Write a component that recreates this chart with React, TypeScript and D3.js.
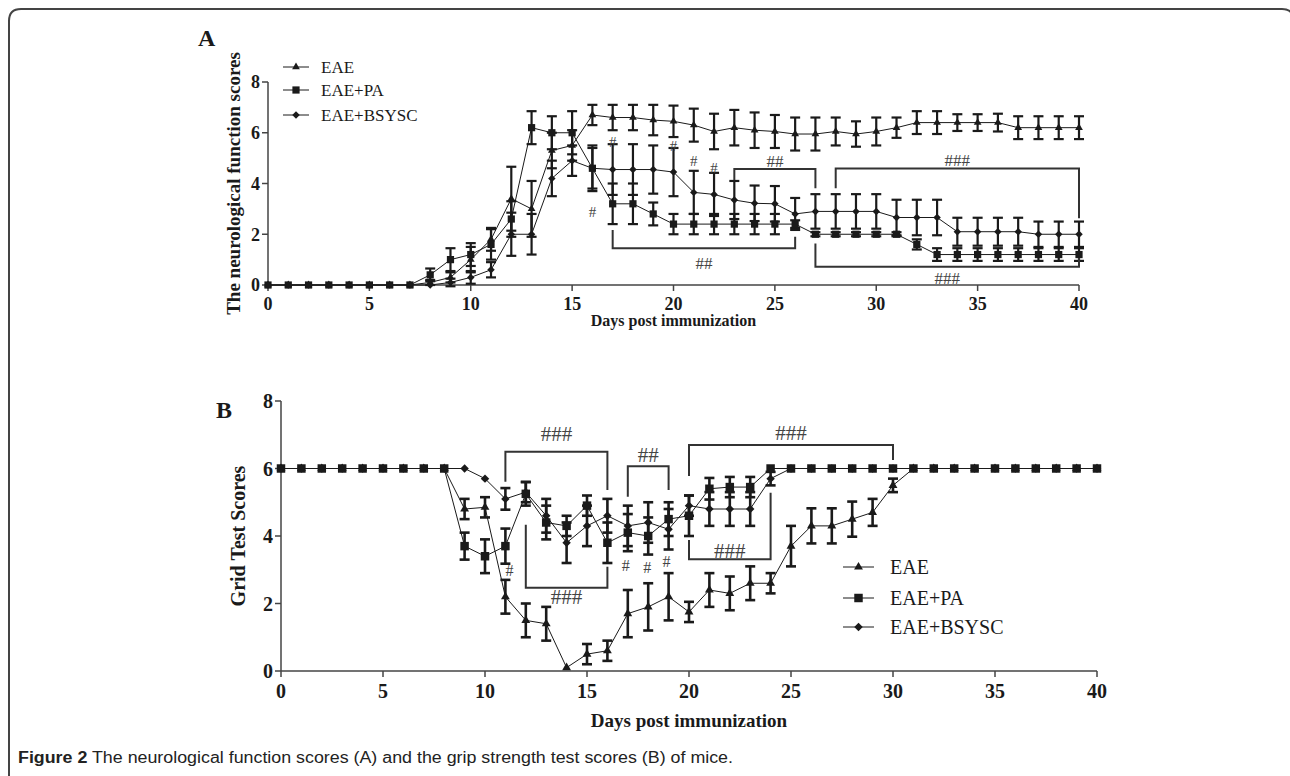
import * as d3 from "d3";

// x categories (days post immunization)
const days = [0, 1, 2, 3, 4, 5, 6, 7, 8, 9, 10, 11, 12, 13, 14, 15, 16, 17, 18, 19, 20,
  21, 22, 23, 24, 25, 26, 27, 28, 29, 30, 31, 32, 33, 34, 35, 36, 37, 38, 39, 40];
const xTicks = [0, 5, 10, 15, 20, 25, 30, 35, 40];
const yTicks = [0, 2, 4, 6, 8];
const seriesNames = ["EAE", "EAE+PA", "EAE+BSYSC"];

// Panel A: neurological function scores (mean, SEM)
const eaeA = [0, 0, 0, 0, 0, 0, 0, 0, 0.1, 0.3, 1.0, 1.8, 3.4, 3.0, 5.3, 5.5, 6.7, 6.6, 6.6, 6.5, 6.45,
  6.3, 6.05, 6.2, 6.1, 6.05, 5.95, 5.95, 6.05, 5.95, 6.05, 6.2, 6.4, 6.4, 6.4, 6.4, 6.4, 6.2, 6.2, 6.2, 6.2];
const eaeAErr = [0, 0, 0, 0, 0, 0, 0, 0, 0.1, 0.2, 0.5, 0.45, 1.26, 1.1, 0.7, 0.6, 0.4, 0.5, 0.5, 0.6, 0.62,
  0.65, 0.7, 0.7, 0.7, 0.65, 0.65, 0.65, 0.55, 0.5, 0.55, 0.4, 0.45, 0.45, 0.33, 0.33, 0.35, 0.45, 0.45, 0.45, 0.45];
const paA = [0, 0, 0, 0, 0, 0, 0, 0, 0.4, 1.0, 1.2, 1.6, 2.6, 6.2, 6.0, 6.0, 4.6, 3.2, 3.2, 2.8, 2.4,
  2.4, 2.4, 2.4, 2.4, 2.4, 2.4, 2.0, 2.0, 2.0, 2.0, 2.0, 1.6, 1.2, 1.2, 1.2, 1.2, 1.2, 1.2, 1.2, 1.2];
const paAErr = [0, 0, 0, 0, 0, 0, 0, 0, 0.25, 0.45, 0.45, 0.6, 0.7, 0.65, 0.65, 0.85, 0.8, 0.8, 0.8, 0.45, 0.4,
  0.4, 0.4, 0.4, 0.4, 0.4, 0.15, 0.08, 0.08, 0.08, 0.08, 0.08, 0.2, 0.25, 0.25, 0.25, 0.25, 0.25, 0.25, 0.25, 0.25];
const bsA = [0, 0, 0, 0, 0, 0, 0, 0, 0, 0.1, 0.3, 0.6, 2.0, 2.0, 4.2, 4.9, 4.6, 4.55, 4.55, 4.55, 4.45,
  3.65, 3.57, 3.35, 3.22, 3.2, 2.8, 2.9, 2.9, 2.9, 2.9, 2.66, 2.66, 2.66, 2.1, 2.1, 2.1, 2.1, 2.0, 2.0, 2.0];
const bsAErr = [0, 0, 0, 0, 0, 0, 0, 0, 0, 0.15, 0.25, 0.3, 0.85, 0.8, 0.7, 0.6, 0.9, 1.0, 1.0, 0.95, 0.95,
  0.85, 0.85, 0.75, 0.7, 0.7, 0.63, 0.68, 0.68, 0.68, 0.68, 0.7, 0.7, 0.7, 0.55, 0.55, 0.55, 0.55, 0.5, 0.5, 0.5];

// Panel B: grid test scores (mean, SEM)
const eaeB = [6, 6, 6, 6, 6, 6, 6, 6, 6, 4.8, 4.85, 2.2, 1.5, 1.4, 0.1, 0.5, 0.6, 1.7, 1.9, 2.2, 1.75,
  2.4, 2.3, 2.6, 2.6, 3.7, 4.3, 4.3, 4.5, 4.7, 5.5, 6, 6, 6, 6, 6, 6, 6, 6, 6, 6];
const eaeBErr = [0, 0, 0, 0, 0, 0, 0, 0, 0, 0.3, 0.3, 0.5, 0.5, 0.5, 0, 0.3, 0.3, 0.7, 0.7, 0.7, 0.3,
  0.5, 0.5, 0.5, 0.3, 0.6, 0.52, 0.52, 0.52, 0.4, 0.2, 0, 0, 0, 0, 0, 0, 0, 0, 0, 0];
const paB = [6, 6, 6, 6, 6, 6, 6, 6, 6, 3.7, 3.4, 3.7, 5.25, 4.4, 4.3, 4.9, 3.8, 4.1, 4.0, 4.5, 4.6,
  5.4, 5.45, 5.45, 6, 6, 6, 6, 6, 6, 6, 6, 6, 6, 6, 6, 6, 6, 6, 6, 6];
const paBErr = [0, 0, 0, 0, 0, 0, 0, 0, 0, 0.4, 0.5, 0.52, 0.35, 0.5, 0.3, 0.3, 0.6, 0.55, 0.55, 0.5, 0.6,
  0.32, 0.3, 0.3, 0, 0, 0, 0, 0, 0, 0, 0, 0, 0, 0, 0, 0, 0, 0, 0, 0];
const bsB = [6, 6, 6, 6, 6, 6, 6, 6, 6, 6, 5.7, 5.1, 5.3, 4.6, 3.8, 4.3, 4.6, 4.3, 4.4, 4.2, 4.9,
  4.8, 4.8, 4.8, 5.7, 6, 6, 6, 6, 6, 6, 6, 6, 6, 6, 6, 6, 6, 6, 6, 6];
const bsBErr = [0, 0, 0, 0, 0, 0, 0, 0, 0, 0, 0, 0.32, 0.3, 0.5, 0.6, 0.6, 0.5, 0.6, 0.6, 0.6, 0.3,
  0.5, 0.5, 0.5, 0.2, 0, 0, 0, 0, 0, 0, 0, 0, 0, 0, 0, 0, 0, 0, 0, 0];

// significance brackets: day range, bar level, tip ends, label and label level (score units)
const bracketsA = [
  { x0: 17, x1: 26, level: 1.45, tip0: 2.17, tip1: 1.9, text: "##", labelV: 0.85 },
  { x0: 23, x1: 27, level: 4.57, tip0: 4.13, tip1: 3.81, text: "##", labelV: 4.87 },
  { x0: 28, x1: 40, level: 4.59, tip0: 3.81, tip1: 2.63, text: "###", labelV: 4.92 },
  { x0: 27, x1: 40, level: 0.72, tip0: 1.64, tip1: 1.06, text: "###", labelV: 0.27 },
];
const hashesA = [
  { day: 17, v: 5.64 }, { day: 16, v: 2.87 }, { day: 20, v: 5.47 }, { day: 21, v: 4.88 }, { day: 22, v: 4.61 },
];
const bracketsB = [
  { x0: 11, x1: 16, level: 6.5, tip0: 5.61, tip1: 5.36, text: "###", labelV: 7.04 },
  { x0: 17, x1: 19, level: 6.07, tip0: 5.16, tip1: 5.36, text: "##", labelV: 6.42 },
  { x0: 20, x1: 30, level: 6.7, tip0: 5.78, tip1: 6.25, text: "###", labelV: 7.06 },
  { x0: 12, x1: 16, level: 2.47, tip0: 4.33, tip1: 3.09, text: "###", labelV: 2.2 },
  { x0: 20, x1: 24, level: 3.31, tip0: 3.88, tip1: 5.28, text: "###", labelV: 3.56 },
];
const hashesB = [
  { day: 11.2, v: 2.99 }, { day: 16.9, v: 3.13 }, { day: 17.95, v: 3.08 }, { day: 18.9, v: 3.25 },
];

const SERIF = "'Liberation Serif', 'Times New Roman', serif";
const INK = "#1a1a1a";

type Layout = {
  left: number; right: number; top: number; bottom: number;
  tickFont: number; xLabelY: number; xLabelFont: number;
  yLabel: string; yLabelX: number; yLabelFont: number;
  tag: string; tagX: number; tagY: number;
  sq: number; tri: number; dia: number; cap: number; barW: number;
  hashFont: number; hashSingleFont: number;
  legend: { x0: number; x1: number; tx: number; ys: number[]; font: number };
};

const layoutA: Layout = {
  left: 268, right: 1079, top: 82, bottom: 285,
  tickFont: 18, xLabelY: 326, xLabelFont: 16,
  yLabel: "The neurological function scores", yLabelX: 233, yLabelFont: 19,
  tag: "A", tagX: 198, tagY: 46,
  sq: 52, tri: 26, dia: 28, cap: 10, barW: 2.2,
  hashFont: 17, hashSingleFont: 15,
  legend: { x0: 283, x1: 309, tx: 321, ys: [67, 90, 115], font: 17 },
};
const layoutB: Layout = {
  left: 281, right: 1097, top: 401, bottom: 671,
  tickFont: 20, xLabelY: 727, xLabelFont: 19,
  yLabel: "Grid Test Scores", yLabelX: 238, yLabelFont: 20,
  tag: "B", tagX: 216, tagY: 418,
  sq: 72, tri: 34, dia: 36, cap: 10, barW: 2.6,
  hashFont: 21, hashSingleFont: 16,
  legend: { x0: 843, x1: 874, tx: 890, ys: [567, 598, 627], font: 20 },
};

const kinds = ["triangle", "square", "diamond"];

function Marker({ kind, cx, cy, L }: { kind: string; cx: number; cy: number; L: Layout }) {
  if (kind === "triangle") {
    return <path d={d3.symbol().type(d3.symbolTriangle).size(L.tri)() as string}
      transform={`translate(${cx},${cy})`} fill={INK} />;
  }
  if (kind === "square") {
    return <path d={d3.symbol().type(d3.symbolSquare).size(L.sq)() as string}
      transform={`translate(${cx},${cy})`} fill={INK} />;
  }
  return <path d={d3.symbol().type(d3.symbolSquare).size(L.dia)() as string}
    transform={`translate(${cx},${cy}) rotate(45)`} fill={INK} />;
}

function Panel({ L, means, errs, brackets, hashes }: {
  L: Layout; means: number[][]; errs: number[][];
  brackets: typeof bracketsA; hashes: typeof hashesA;
}) {
  const x = d3.scaleLinear().domain([0, 40]).range([L.left, L.right]);
  const y = d3.scaleLinear().domain([0, 8]).range([L.bottom, L.top]);
  const line = d3.line<number>().x((_, i) => x(days[i])).y((v) => y(v));
  const axisColor = "#444";
  const midY = (L.top + L.bottom) / 2;

  return (
    <g>
      <text x={L.tagX} y={L.tagY} fontFamily={SERIF} fontWeight="bold" fontSize={24} fill={INK}>{L.tag}</text>

      {/* axes */}
      <line x1={L.left} x2={L.left} y1={L.top} y2={L.bottom} stroke={axisColor} strokeWidth={1.5} />
      <line x1={L.left} x2={L.right} y1={L.bottom} y2={L.bottom} stroke={axisColor} strokeWidth={1.5} />
      {yTicks.map((t) => (
        <g key={"y" + t}>
          <line x1={L.left - 6} x2={L.left} y1={y(t)} y2={y(t)} stroke={axisColor} strokeWidth={1.5} />
          <text x={L.left - 8} y={y(t)} dy="0.35em" textAnchor="end" fontFamily={SERIF}
            fontWeight="bold" fontSize={L.tickFont} fill={INK}>{t}</text>
        </g>
      ))}
      {xTicks.map((t) => (
        <g key={"x" + t}>
          <line x1={x(t)} x2={x(t)} y1={L.bottom} y2={L.bottom + 6} stroke={axisColor} strokeWidth={1.5} />
          <text x={x(t)} y={L.bottom + 8} dy="0.95em" textAnchor="middle" fontFamily={SERIF}
            fontWeight="bold" fontSize={L.tickFont} fill={INK}>{t}</text>
        </g>
      ))}
      <text x={(L.left + L.right) / 2} y={L.xLabelY} textAnchor="middle" fontFamily={SERIF}
        fontWeight="bold" fontSize={L.xLabelFont} fill={INK}>Days post immunization</text>
      <text transform={`translate(${L.yLabelX},${midY}) rotate(-90)`} dy="0.35em" textAnchor="middle"
        fontFamily={SERIF} fontWeight="bold" fontSize={L.yLabelFont} fill={INK}>{L.yLabel}</text>

      {/* series lines */}
      {means.map((m, s) => (
        <path key={"l" + s} d={line(m) as string} fill="none" stroke={INK} strokeWidth={1} />
      ))}
      {/* error bars */}
      {means.map((m, s) => m.map((v, i) => {
        const e = errs[s][i];
        if (e < 0.05) return null;
        const cx = x(days[i]);
        return (
          <g key={`e${s}-${i}`} stroke={INK} strokeWidth={L.barW}>
            <line x1={cx} x2={cx} y1={y(v - e)} y2={y(v + e)} />
            <line x1={cx - L.cap / 2} x2={cx + L.cap / 2} y1={y(v + e)} y2={y(v + e)} />
            <line x1={cx - L.cap / 2} x2={cx + L.cap / 2} y1={y(v - e)} y2={y(v - e)} />
          </g>
        );
      }))}
      {/* markers */}
      {means.map((m, s) => m.map((v, i) => (
        <Marker key={`m${s}-${i}`} kind={kinds[s]} cx={x(days[i])} cy={y(v)} L={L} />
      )))}

      {/* significance brackets */}
      {brackets.map((b, i) => (
        <g key={"b" + i}>
          <path d={`M${x(b.x0)},${y(b.tip0)}V${y(b.level)}H${x(b.x1)}V${y(b.tip1)}`}
            fill="none" stroke="#333" strokeWidth={2} />
          <text x={x((b.x0 + b.x1) / 2)} y={y(b.labelV)} dy="0.35em" textAnchor="middle"
            fontFamily={SERIF} fontSize={L.hashFont} fill="#444">{b.text}</text>
        </g>
      ))}
      {hashes.map((h, i) => (
        <text key={"h" + i} x={x(h.day)} y={y(h.v)} dy="0.35em" textAnchor="middle"
          fontFamily={SERIF} fontSize={L.hashSingleFont} fill="#444">#</text>
      ))}

      {/* legend */}
      {seriesNames.map((name, s) => {
        const ly = L.legend.ys[s];
        return (
          <g key={"lg" + s}>
            <line x1={L.legend.x0} x2={L.legend.x1} y1={ly} y2={ly} stroke={INK} strokeWidth={1} />
            <Marker kind={kinds[s]} cx={(L.legend.x0 + L.legend.x1) / 2} cy={ly} L={L} />
            <text x={L.legend.tx} y={ly} dy="0.35em" fontFamily={SERIF} fontSize={L.legend.font}
              fill={INK}>{name}</text>
          </g>
        );
      })}
    </g>
  );
}

export default function App() {
  return (
    <svg width={1290} height={776} style={{ position: "absolute", left: 0, top: 0, background: "#fff" }}>
      <rect x={0} y={0} width={1290} height={776} fill="#fff" />
      <path d="M9,790 V21 Q9,9 21,9 H1282 Q1293,9 1294,20" fill="none" stroke="#444" strokeWidth={2} />
      <Panel L={layoutA} means={[eaeA, paA, bsA]} errs={[eaeAErr, paAErr, bsAErr]}
        brackets={bracketsA} hashes={hashesA} />
      <Panel L={layoutB} means={[eaeB, paB, bsB]} errs={[eaeBErr, paBErr, bsBErr]}
        brackets={bracketsB} hashes={hashesB} />
      <text x={18} y={763} fontFamily="'Liberation Sans Narrow', 'Liberation Sans', sans-serif" fontSize={16}
        fill="#222" textLength={715} lengthAdjust="spacingAndGlyphs">
        <tspan fontWeight="bold">Figure 2</tspan>
        <tspan> The neurological function scores (A) and the grip strength test scores (B) of mice.</tspan>
      </text>
    </svg>
  );
}
